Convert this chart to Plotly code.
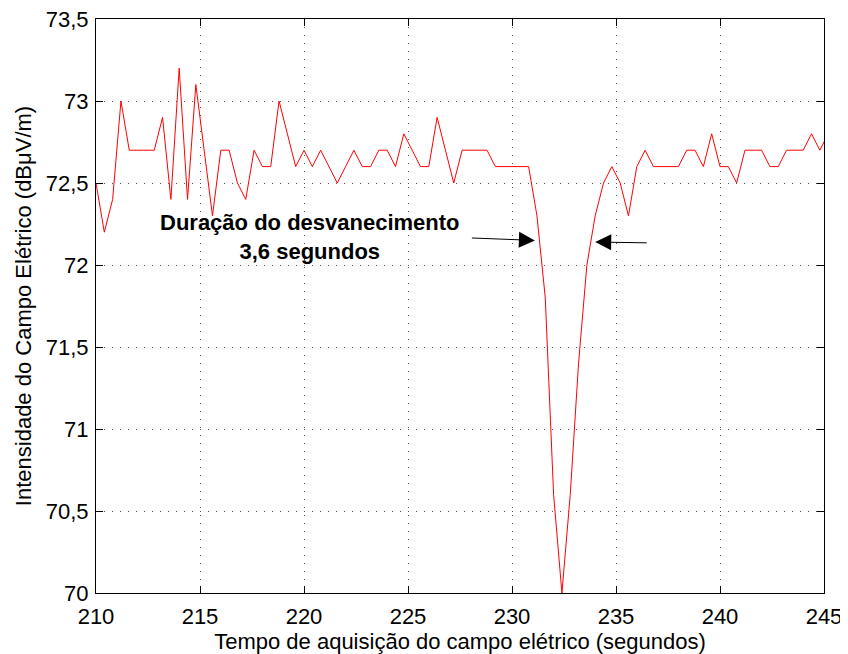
import plotly.graph_objects as go

# tempo (s) e intensidade do campo (dBuV/m), amostras
tempo = [
    210.0, 210.4, 210.8, 211.2, 211.6, 212.0, 212.4, 212.8, 213.2, 213.6,
    214.0, 214.4, 214.8, 215.2, 215.6, 216.0, 216.4, 216.8, 217.2, 217.6,
    218.0, 218.4, 218.8, 219.2, 219.6, 220.0, 220.4, 220.8, 221.2, 221.6,
    222.0, 222.4, 222.8, 223.2, 223.6, 224.0, 224.4, 224.8, 225.2, 225.6,
    226.0, 226.4, 226.8, 227.2, 227.6, 228.0, 228.4, 228.8, 229.2, 229.6,
    230.0, 230.4, 230.8, 231.2, 231.6, 232.0, 232.4, 232.8, 233.2, 233.6,
    234.0, 234.4, 234.8, 235.2, 235.6, 236.0, 236.4, 236.8, 237.2, 237.6,
    238.0, 238.4, 238.8, 239.2, 239.6, 240.0, 240.4, 240.8, 241.2, 241.6,
    242.0, 242.4, 242.8, 243.2, 243.6, 244.0, 244.4, 244.8, 245.2,
]
campo = [
    72.5, 72.2, 72.4, 73.0, 72.7, 72.7, 72.7, 72.7, 72.9, 72.4,
    73.2, 72.4, 73.1, 72.7, 72.3, 72.7, 72.7, 72.5, 72.4, 72.7,
    72.6, 72.6, 73.0, 72.8, 72.6, 72.7, 72.6, 72.7, 72.6, 72.5,
    72.6, 72.7, 72.6, 72.6, 72.7, 72.7, 72.6, 72.8, 72.7, 72.6,
    72.6, 72.9, 72.7, 72.5, 72.7, 72.7, 72.7, 72.7, 72.6, 72.6,
    72.6, 72.6, 72.6, 72.3, 71.8, 70.6, 70.0, 70.6, 71.4, 72.0,
    72.3, 72.5, 72.6, 72.5, 72.3, 72.6, 72.7, 72.6, 72.6, 72.6,
    72.6, 72.7, 72.7, 72.6, 72.8, 72.6, 72.6, 72.5, 72.7, 72.7,
    72.7, 72.6, 72.6, 72.7, 72.7, 72.7, 72.8, 72.7, 72.8,
]

x_ticks = [210, 215, 220, 225, 230, 235, 240, 245]
y_ticks = [70, 70.5, 71, 71.5, 72, 72.5, 73, 73.5]
y_ticktext = ["70", "70,5", "71", "71,5", "72", "72,5", "73", "73,5"]

FONT = "Arial, Liberation Sans, sans-serif"

fig = go.Figure()
fig.add_trace(go.Scatter(x=tempo, y=campo, mode="lines", cliponaxis=True,
                         line=dict(color="#ff0000", width=1)))

axis_style = dict(
    showline=True, linecolor="black", linewidth=1, mirror="ticks",
    ticks="inside", ticklen=7, tickcolor="black", automargin=False,
    ticklabeloverflow="allow",
    showgrid=True, gridcolor="#555555", gridwidth=1, griddash="1px,7px",
    zeroline=False, tickfont=dict(size=22, color="black", family=FONT),
)

fig.update_xaxes(range=[210, 245], tickvals=x_ticks, ticklabelstandoff=4,
                 title=dict(text="Tempo de aquisição do campo elétrico (segundos)",
                            font=dict(size=22, color="black", family=FONT), standoff=2),
                 **axis_style)
fig.update_yaxes(range=[70, 73.5], tickvals=y_ticks, ticktext=y_ticktext,
                 ticklabelstandoff=2,
                 title=dict(text="Intensidade do Campo Elétrico (dBμV/m)",
                            font=dict(size=22, color="black", family=FONT), standoff=8),
                 **axis_style)

fig.add_annotation(x=220.3, y=72.17, text="<b>Duração do desvanecimento<br>3,6 segundos</b>",
                   showarrow=False, font=dict(size=22, color="black", family=FONT))

# setas
fig.add_annotation(x=231.1, y=72.15, ax=228.0, ay=72.165, axref="x", ayref="y",
                   text="", showarrow=True, arrowhead=2, arrowsize=3.2,
                   arrowwidth=1, arrowcolor="black")
fig.add_annotation(x=234.0, y=72.14, ax=236.55, ay=72.135, axref="x", ayref="y",
                   text="", showarrow=True, arrowhead=2, arrowsize=3.2,
                   arrowwidth=1, arrowcolor="black")

# o body da pagina desloca a figura 8 px; margens compensam
fig.update_layout(
    width=848, height=654,
    margin=dict(l=88, r=32, t=11, b=69),
    plot_bgcolor="white", paper_bgcolor="white",
    showlegend=False,
    font=dict(family=FONT, color="black"),
)

fig.write_html("out.html")
